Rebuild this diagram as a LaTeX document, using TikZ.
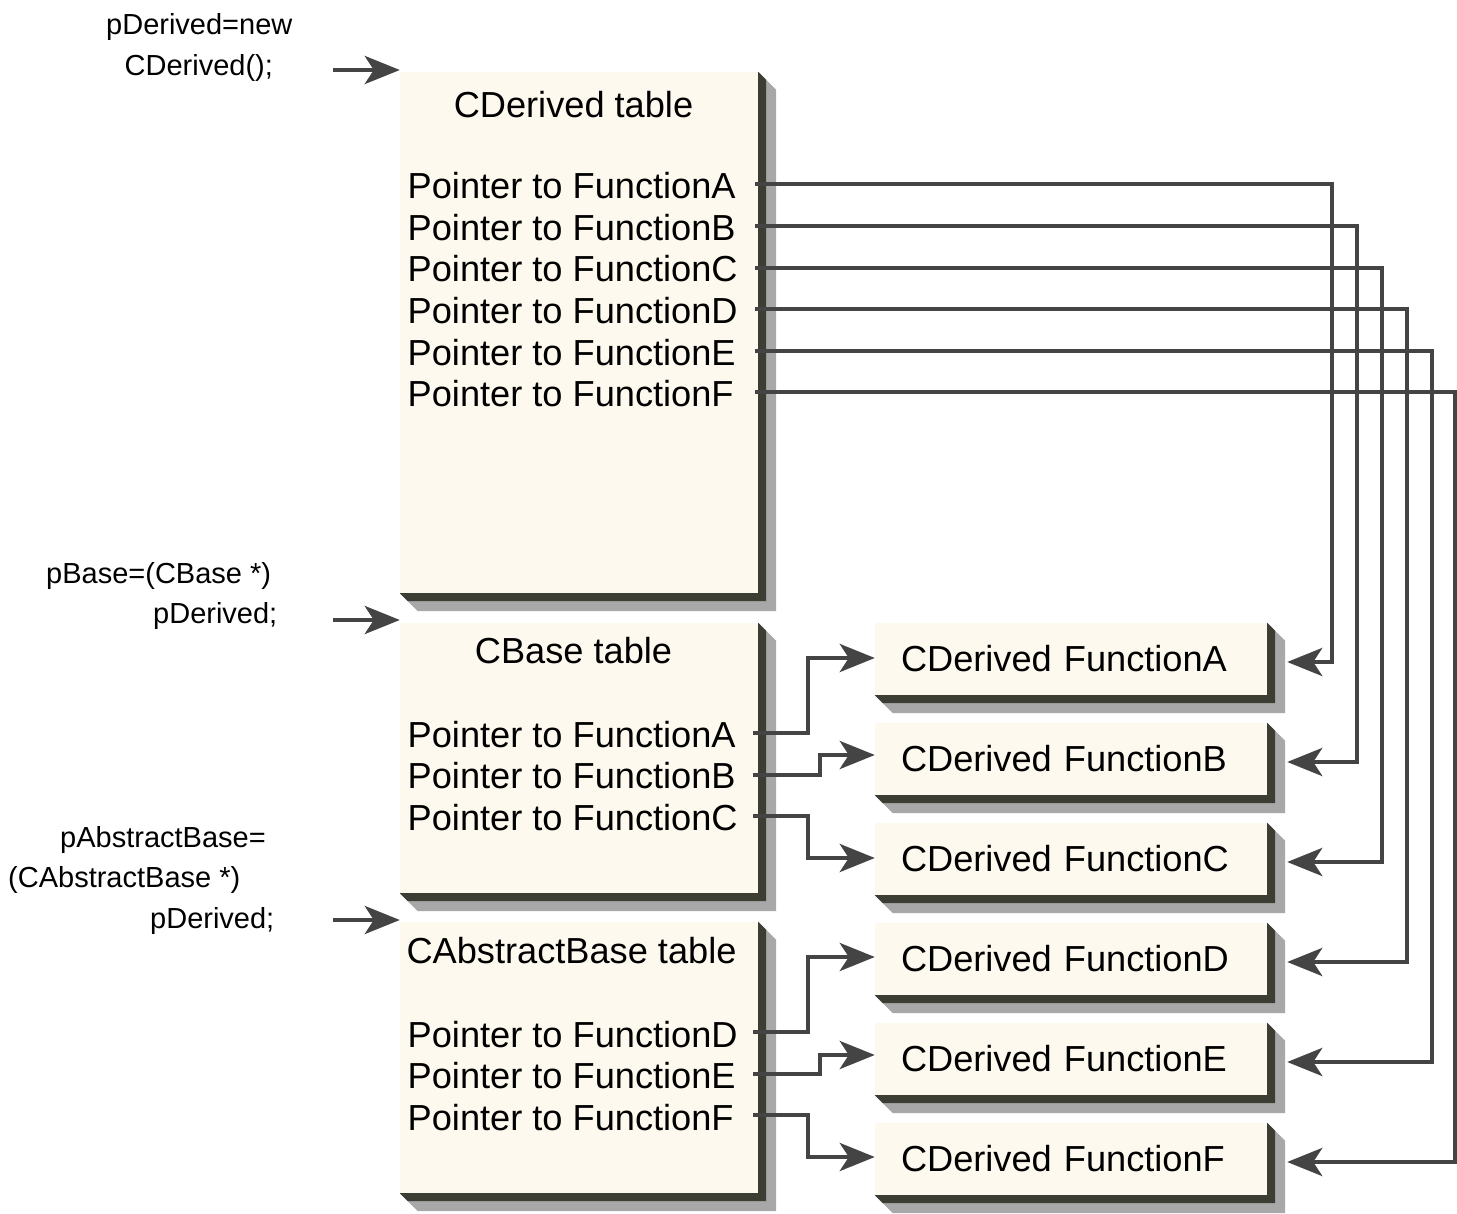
\documentclass[tikz,border=0pt]{standalone}
\usepackage{fontspec}
\setmainfont{Liberation Sans}
\usetikzlibrary{arrows.meta,calc}
\definecolor{cream}{HTML}{FDF9EE}
\definecolor{edgedark}{HTML}{3C3E34}
\definecolor{edgegrey}{HTML}{A8A8A8}
\definecolor{linecol}{HTML}{444444}
\newcommand\bigtxt{\fontsize{36.2}{40}\selectfont}
\newcommand\smalltxt{\fontsize{29}{34}\selectfont}
\newcommand\boxextrude[3]{%
  \fill[#3] (#1.north east) -- ++(#2,#2) -- ($(#1.south east)+(#2,#2)$)
    -- ($(#1.south west)+(#2,#2)$) -- (#1.south west) -- (#1.south east) -- cycle;}
\newcommand\boxshade[1]{\boxextrude{#1}{18}{edgegrey}\boxextrude{#1}{8}{edgedark}}
\tikzset{
  tablebox/.style={fill=cream, inner sep=0pt, minimum width=358pt},
  funcbox/.style={fill=cream, inner xsep=26pt, inner ysep=0pt, minimum height=72pt,
    text width=340pt, align=left, font=\bigtxt},
  rowtxt/.style={inner sep=0pt, anchor=base west, font=\bigtxt},
  titletxt/.style={inner sep=0pt, anchor=base, font=\bigtxt},
  codetxt/.style={inner sep=0pt, anchor=base west, font=\smalltxt},
  conn/.style={draw=linecol, line width=4.4pt,
    -{Stealth[length=35pt,width=28pt,inset=9pt]}}
}
\begin{document}
\begin{tikzpicture}[x=1pt,y=-1pt]
\useasboundingbox[fill=white] (0,0) rectangle (1457,1214);

% table boxes
\node[tablebox, minimum height=521pt] (tD) at (579,332.5) {};
\node[tablebox, minimum height=270pt] (tB) at (579,758) {};
\node[tablebox, minimum height=271pt] (tA) at (579,1057.5) {};

% function boxes
\node[funcbox] (fA) at (1071,659) {CDerived FunctionA};
\node[funcbox] (fB) at (1071,759) {CDerived FunctionB};
\node[funcbox] (fC) at (1071,859) {CDerived FunctionC};
\node[funcbox] (fD) at (1071,959) {CDerived FunctionD};
\node[funcbox] (fE) at (1071,1059) {CDerived FunctionE};
\node[funcbox] (fF) at (1071,1159) {CDerived FunctionF};

\boxshade{tD}\boxshade{tB}\boxshade{tA}
\boxshade{fA}\boxshade{fB}\boxshade{fC}\boxshade{fD}\boxshade{fE}\boxshade{fF}

% code labels
\node[codetxt] (c1) at (106,35) {pDerived=new};
\node[codetxt] (c2) at (124.5,76) {CDerived();};
\node[codetxt] (c3) at (46,583) {pBase=(CBase *)};
\node[codetxt] (c4) at (153,623) {pDerived;};
\node[codetxt] (c5) at (60,847) {pAbstractBase=};
\node[codetxt] (c6) at (8,887) {(CAbstractBase *)};
\node[codetxt] (c7) at (150,928) {pDerived;};

% table texts
\node[titletxt] (hD) at (573.5,118) {CDerived table};
\node[rowtxt] (dA) at (407.5,199) {Pointer to FunctionA};
\node[rowtxt] (dB) at (407.5,241) {Pointer to FunctionB};
\node[rowtxt] (dC) at (407.5,282) {Pointer to FunctionC};
\node[rowtxt] (dD) at (407.5,324) {Pointer to FunctionD};
\node[rowtxt] (dE) at (407.5,366) {Pointer to FunctionE};
\node[rowtxt] (dF) at (407.5,407) {Pointer to FunctionF};

\node[titletxt] (hB) at (573.5,663) {CBase table};
\node[rowtxt] (bA) at (407.5,747) {Pointer to FunctionA};
\node[rowtxt] (bB) at (407.5,788) {Pointer to FunctionB};
\node[rowtxt] (bC) at (407.5,830) {Pointer to FunctionC};

\node[titletxt] (hA) at (571.5,963) {CAbstractBase table};
\node[rowtxt] (aD) at (407.5,1047) {Pointer to FunctionD};
\node[rowtxt] (aE) at (407.5,1088) {Pointer to FunctionE};
\node[rowtxt] (aF) at (407.5,1130) {Pointer to FunctionF};

% connector anchor points
\coordinate (sdA) at (755,184);
\coordinate (sdB) at (755,226);
\coordinate (sdC) at (755,268);
\coordinate (sdD) at (755,309);
\coordinate (sdE) at (755,351);
\coordinate (sdF) at (755,392);
\coordinate (sbA) at (753,733);
\coordinate (sbB) at (753,775);
\coordinate (sbC) at (753,816);
\coordinate (saD) at (753,1032);
\coordinate (saE) at (753,1074);
\coordinate (saF) at (753,1115);

\coordinate (vA) at (1332,0);
\coordinate (vB) at (1357,0);
\coordinate (vC) at (1382,0);
\coordinate (vD) at (1407,0);
\coordinate (vE) at (1432,0);
\coordinate (vF) at (1455,0);
\coordinate (j1) at (808,0);
\coordinate (j2) at (820,0);

\coordinate (rA) at ($(fA.east)+(20,3)$);
\coordinate (rB) at ($(fB.east)+(20,3)$);
\coordinate (rC) at ($(fC.east)+(20,3)$);
\coordinate (rD) at ($(fD.east)+(20,3)$);
\coordinate (rE) at ($(fE.east)+(20,3)$);
\coordinate (rF) at ($(fF.east)+(20,3)$);
\coordinate (lA) at ($(fA.west)+(0,-1)$);
\coordinate (lB) at ($(fB.west)+(0,-4)$);
\coordinate (lC) at ($(fC.west)+(0,-1)$);
\coordinate (lD) at ($(fD.west)+(0,-2)$);
\coordinate (lE) at ($(fE.west)+(0,-4)$);
\coordinate (lF) at ($(fF.west)+(0,-2)$);

% entry arrows
\coordinate (eD) at (333,70);
\coordinate (eB) at (333,620);
\coordinate (eA) at (333,920);
\draw[conn] (eD) -- (eD -| tD.west);
\draw[conn] (eB) -- (eB -| tB.west);
\draw[conn] (eA) -- (eA -| tA.west);

% CDerived table connectors
\draw[conn] (sdA) -| (vA |- rA) -- (rA);
\draw[conn] (sdB) -| (vB |- rB) -- (rB);
\draw[conn] (sdC) -| (vC |- rC) -- (rC);
\draw[conn] (sdD) -| (vD |- rD) -- (rD);
\draw[conn] (sdE) -| (vE |- rE) -- (rE);
\draw[conn] (sdF) -| (vF |- rF) -- (rF);

% CBase / CAbstractBase connectors
\draw[conn] (sbA) -| (j1 |- lA) -- (lA);
\draw[conn] (sbB) -| (j2 |- lB) -- (lB);
\draw[conn] (sbC) -| (j1 |- lC) -- (lC);
\draw[conn] (saD) -| (j1 |- lD) -- (lD);
\draw[conn] (saE) -| (j2 |- lE) -- (lE);
\draw[conn] (saF) -| (j1 |- lF) -- (lF);
\end{tikzpicture}
\end{document}
